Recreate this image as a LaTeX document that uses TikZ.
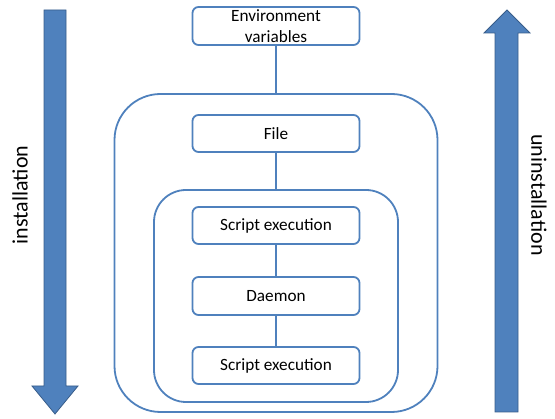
\documentclass[tikz,border=0pt]{standalone}
\usepackage{fontspec}
\setmainfont{Carlito}
\definecolor{boxblue}{RGB}{79,129,189}
\definecolor{edgeblue}{RGB}{56,93,138}
\begin{document}
\begin{tikzpicture}[x=1pt,y=-1pt,
  box/.style={draw=boxblue,line width=1.8pt,rounded corners=6pt,fill=white,inner sep=0pt,
    minimum width=167pt,minimum height=37pt,align=center,font=\fontsize{17.2}{20.5}\selectfont},
  group/.style={draw=boxblue,line width=1.8pt,inner sep=0pt},
  conn/.style={draw=boxblue,line width=2.2pt},
  bigarrow/.style={fill=boxblue,draw=edgeblue,line width=0.8pt},
  side/.style={font=\fontsize{22}{24}\selectfont,inner sep=0pt}]
\useasboundingbox (0,0) rectangle (555,419);
% arrows
\path[bigarrow] (44,10) -- (66,10) -- (66,386) -- (78,386) -- (55,414) -- (32,386) -- (44,386) -- cycle;
\path[bigarrow] (495,412) -- (518,412) -- (518,33) -- (530,33) -- (507,10) -- (484,33) -- (495,33) -- cycle;
\node[side,rotate=90] (inst) at (20,195) {installation};
\node[side,rotate=-90] (uninst) at (539,195) {uninstallation};
% groups
\node[group,rounded corners=46pt,minimum width=323pt,minimum height=318pt] (outer) at (276,253) {};
\node[group,rounded corners=32pt,minimum width=244pt,minimum height=212pt] (inner) at (276,296) {};
% boxes
\node[box,minimum height=38pt] (env) at (276,26) {Environment\\variables};
\node[box] (file) at (276,133.5) {File};
\node[box] (se1) at (276,225.5) {Script execution};
\node[box,minimum height=38pt] (dae) at (276,296) {Daemon};
\node[box] (se2) at (276,365.5) {Script execution};
% connectors
\draw[conn] (env.south) -- (outer.north);
\draw[conn] (file.south) -- (inner.north);
\draw[conn] (se1.south) -- (dae.north);
\draw[conn] (dae.south) -- (se2.north);
\end{tikzpicture}
\end{document}
